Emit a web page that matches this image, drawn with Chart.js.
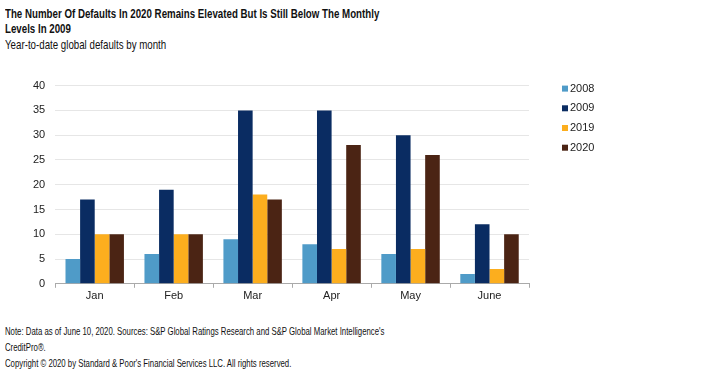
<!DOCTYPE html>
<html>
<head>
<meta charset="utf-8">
<script src="https://cdn.jsdelivr.net/npm/chart.js@4/dist/chart.umd.min.js"></script>
<style>
body{margin:0;background:#fff;width:720px;height:378px;overflow:hidden;position:relative;font-family:"Liberation Sans",Arial,sans-serif;color:#111}
.t{position:absolute;left:5px;white-space:nowrap;transform-origin:0 0;transform:scaleX(0.72)}
#h1{top:6px;font-size:13.5px;font-weight:bold;line-height:15px}
#sub{top:37px;font-size:13.5px;line-height:15px}
#foot{top:323px;font-size:11.5px;line-height:16px;transform:scaleX(0.677)}
#box{position:absolute;left:0;top:69px;width:720px;height:236px}
</style>
</head>
<body>
<div class="t" id="h1">The Number Of Defaults In 2020 Remains Elevated But Is Still Below The Monthly<br>Levels In 2009</div>
<div class="t" id="sub">Year-to-date global defaults by month</div>
<div id="box"><canvas id="c"></canvas></div>
<div class="t" id="foot">Note: Data as of June 10, 2020. Sources: S&amp;P Global Ratings Research and S&amp;P Global Market Intelligence's<br>CreditPro®.<br>Copyright © 2020 by Standard &amp; Poor's Financial Services LLC. All rights reserved.</div>
<script>
const meses=['Jan','Feb','Mar','Apr','May','June'];
const anos=['2008','2009','2019','2020'];
const v2008=[5,6,9,8,6,2];
const v2009=[17,19,35,35,30,12];
const v2019=[10,10,18,7,7,3];
const v2020=[10,10,17,28,26,10];
const cores=['#4f9bc8','#0a2c62','#fcae1e','#4b2414'];
const fonte='"Liberation Sans",Arial,sans-serif';
const series=[v2008,v2009,v2019,v2020];
new Chart(document.getElementById('c'),{
  type:'bar',
  data:{labels:meses,datasets:series.map((d,i)=>({label:anos[i],data:d,backgroundColor:cores[i],categoryPercentage:0.74,barPercentage:1}))},
  options:{
    responsive:true,maintainAspectRatio:false,animation:false,
    layout:{padding:{top:10,right:191,left:23,bottom:0}},
    plugins:{
      legend:{display:false},tooltip:{enabled:false}
    },
    scales:{
      x:{grid:{display:true,drawOnChartArea:false,offset:true,tickLength:4,color:'#aaa'},border:{color:'#aaa'},
        ticks:{color:'#222',font:{family:fonte,size:11},padding:2}},
      y:{min:0,max:40,ticks:{stepSize:5,color:'#222',font:{family:fonte,size:11},padding:10},
        grid:{color:'#e6e6e6',drawTicks:false},border:{display:false}}
    }
  },
  plugins:[{id:'legenda',afterDraw(ch){
    const x=ch.ctx;x.save();
    const l=ch.chartArea.right+33;
    anos.forEach((a,i)=>{
      const y=ch.chartArea.top+3+i*19.7;
      x.fillStyle=cores[i];x.fillRect(l,y-3,6,6);
      x.fillStyle='#222';x.font='11px '+fonte;x.textBaseline='middle';x.fillText(a,l+8,y);
    });
    x.restore();
  }}]
});
</script>
</body>
</html>
